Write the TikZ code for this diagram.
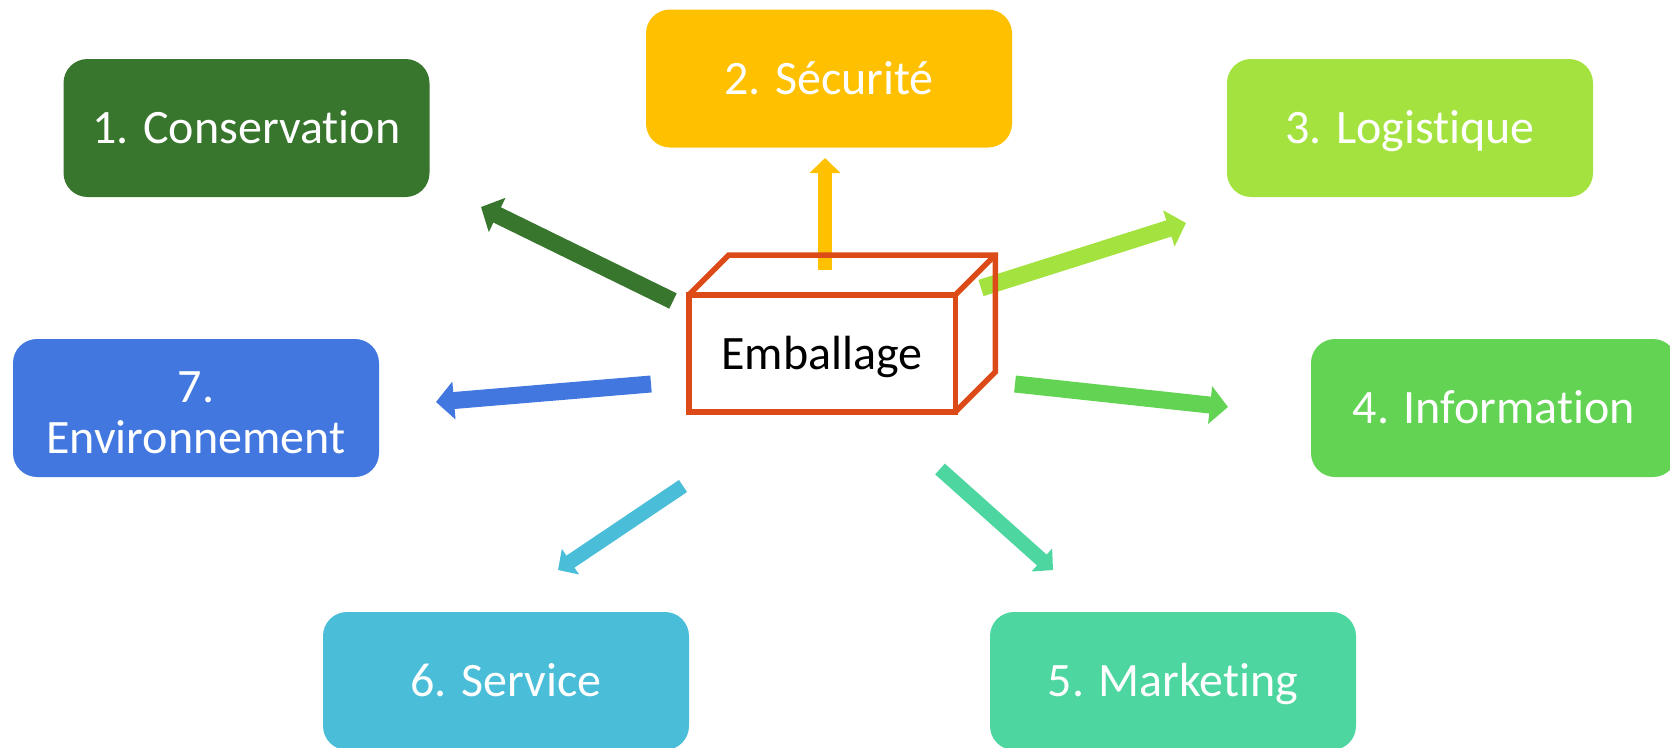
\documentclass[tikz,border=0pt]{standalone}
\usepackage{fontspec}
\setmainfont{Carlito}[Ligatures={NoCommon}]
\usetikzlibrary{arrows.meta}

\definecolor{cConservation}{RGB}{56,118,46}
\definecolor{cSecurite}{RGB}{255,192,0}
\definecolor{cLogistique}{RGB}{164,226,63}
\definecolor{cInformation}{RGB}{98,211,82}
\definecolor{cMarketing}{RGB}{77,214,159}
\definecolor{cService}{RGB}{74,190,216}
\definecolor{cEnvironnement}{RGB}{65,119,223}
\definecolor{cPack}{RGB}{220,74,23}

\tikzset{
  role/.style={rectangle, rounded corners=24pt, minimum width=366pt,
    minimum height=138pt, inner sep=0pt, outer sep=0pt, text=white,
    font=\fontsize{48}{51}\selectfont, text height=31pt, text depth=0pt},
  packface/.style={rectangle, draw=cPack, line width=5.5pt,
    minimum width=266.5pt, minimum height=117pt, inner sep=0pt, outer sep=0pt,
    font=\fontsize{48}{58}\selectfont, text height=31pt, text depth=0pt},
  packedge/.style={draw=cPack, line width=5.5pt},
  flow/.style={line width=17pt, -{Triangle[width=37pt,length=18pt]}},
  thinflow/.style={line width=14.5pt, -{Triangle[width=30pt,length=15pt]}},
}

\begin{document}
\begin{tikzpicture}[x=1pt,y=-1pt]
\useasboundingbox (0,0) rectangle (1670,747);
\clip (0,0) rectangle (1670,747);

% the seven functions
\node[role, fill=cConservation] (cons) at (246.5,128) {1. Conservation};
\node[role, fill=cSecurite] (secu) at (829,78.5) {2. Sécurité};
\node[role, fill=cLogistique] (logi) at (1410,128) {3. Logistique};
\node[role, fill=cInformation] (info) at (1494,408) {4. Information};
\node[role, fill=cMarketing] (mark) at (1173,681) {5. Marketing};
\node[role, fill=cService] (serv) at (506,681) {6. Service};
\node[role, fill=cEnvironnement, align=center, text height=90pt, text depth=0pt]
  (envi) at (196,408) {7.\\Environnement};

% arrow ends
\coordinate (t1) at (673,301);  \coordinate (h1) at (481,207);
\coordinate (t2) at (825,270);  \coordinate (h2) at (825,158);
\coordinate (t3) at (981,288);  \coordinate (h3) at (1186,223);
\coordinate (t4) at (1015,384); \coordinate (h4) at (1228,407);
\coordinate (t5) at (940,469);  \coordinate (h5) at (1053,570);
\coordinate (t6) at (683,486);  \coordinate (h6) at (558,570);
\coordinate (t7) at (651,384);  \coordinate (h7) at (436,402);

\draw[flow, draw=cConservation] (t1) -- (h1);
\draw[thinflow, draw=cSecurite] (t2) -- (h2);
\draw[flow, draw=cLogistique] (t3) -- (h3);
\draw[flow, draw=cInformation] (t4) -- (h4);
\draw[thinflow, draw=cMarketing] (t5) -- (h5);
\draw[thinflow, draw=cService] (t6) -- (h6);
\draw[flow, draw=cEnvironnement] (t7) -- (h7);

% the package drawn as a box
\node[packface] (pack) at (822,353.5) {Emballage};
\draw[packedge] (pack.north west) -- ++(40,-40) -- ++(266.5,0) coordinate (backtop)
  -- ++(0,117) -- (pack.south east);
\draw[packedge] (pack.north east) -- (backtop);
\end{tikzpicture}
\end{document}
